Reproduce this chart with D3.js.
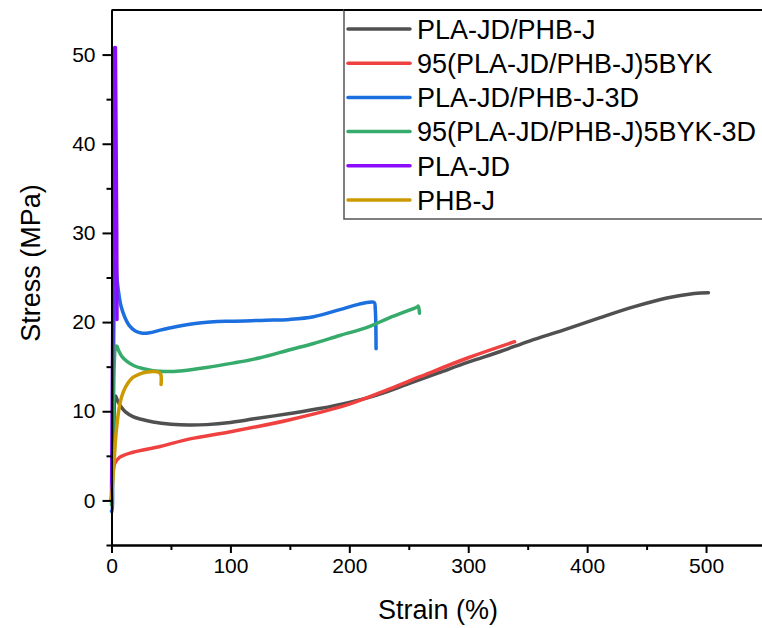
<!DOCTYPE html>
<html><head><meta charset="utf-8">
<script src="https://cdn.jsdelivr.net/npm/d3@7"></script>
<style>html,body{margin:0;padding:0;background:#fff;overflow:hidden}svg{display:block}</style>
</head><body>
<svg id="chart" width="762" height="628"></svg>
<script>
const seriesNames = ["PLA-JD/PHB-J","95(PLA-JD/PHB-J)5BYK","PLA-JD/PHB-J-3D","95(PLA-JD/PHB-J)5BYK-3D","PLA-JD","PHB-J"];
const seriesColors = ["#505050","#f04141","#1b6fdf","#36ab6b","#8c0cff","#cc9900"];

const blackStrain = [0,1,2,2.8,3.5,5,8,12,18,25,35,50,65,80,100,120,150,175,200,225,250,275,300,327,352,380,411,439,467,490,502];
const blackStress = [0,4,8,11.5,11.7,11.2,10.5,9.9,9.4,9.1,8.8,8.55,8.45,8.5,8.75,9.15,9.75,10.3,11.0,11.9,13.1,14.3,15.5,16.7,17.9,19.1,20.5,21.7,22.7,23.2,23.3];

const redStrain = [0,0.5,1,2,3,7,18,41,66,100,150,200,234,260,300,339];
const redStress = [0,1.5,3,3.8,4.2,4.85,5.4,6.05,6.9,7.7,9.05,10.8,12.5,13.9,16.0,17.8];

const blueStrain = [0,0.4,0.9,1.5,2.2,2.8,3.5,4.5,6,8,11,15,20,26,32,41,55,74,100,130,150,170,192,205,215,221,221.8,222.5];
const blueStress = [-1.2,-1.3,5,14,22,26.9,26.8,25,23.3,21.8,20.6,19.6,19.0,18.75,18.8,19.1,19.5,19.9,20.1,20.2,20.3,20.6,21.4,21.9,22.2,22.2,21.5,17.0];

const greenStrain = [0,0.5,1,1.8,2.5,3.5,4.5,6,9,13,19,26,35,45,60,80,102,125,150,170,192,215,234,257,258,259];
const greenStress = [-0.5,2,6,12,16,17.3,17.3,16.8,16.1,15.6,15.1,14.8,14.55,14.45,14.55,14.9,15.4,16.0,16.9,17.6,18.5,19.4,20.5,21.7,21.8,21.0];

const purpleStrain = [0,1.6,2.7,3.3,4.4,4.6];
const purpleStress = [0,30,50.8,50.8,30,20.3];

const goldStrain = [0,0.5,1.5,2.5,3.5,5,7,10,14,18,24,30,36,40,41.5,41.7];
const goldStress = [0,1,3,5,7,9,10.8,12.2,13.2,13.8,14.2,14.4,14.45,14.35,14.1,13.0];

const xTicks = [0,100,200,300,400,500];
const yTicks = [0,10,20,30,40,50];

const strains = [blackStrain, redStrain, blueStrain, greenStrain, purpleStrain, goldStrain];
const stresses = [blackStress, redStress, blueStress, greenStress, purpleStress, goldStress];

const svg = d3.select("#chart");
const FONT = "'Liberation Sans', Arial, sans-serif";
const pLeft = 111.5, pRight = 765.5, pTop = 10, pBottom = 545;
const x = d3.scaleLinear().domain([0,550]).range([pLeft,pRight]);
const y = d3.scaleLinear().domain([-5,55]).range([pBottom,pTop]);

// curves
const smooth = d3.line().x(d=>x(d[0])).y(d=>y(d[1])).curve(d3.curveCatmullRom.alpha(0.5));
const straight = d3.line().x(d=>x(d[0])).y(d=>y(d[1]));
const g = svg.append("g");
seriesNames.forEach((name,i)=>{
  const pts = strains[i].map((s,k)=>[s, stresses[i][k]]);
  g.append("path").datum(pts).attr("d", name === "PLA-JD" ? straight : smooth)
    .attr("fill","none").attr("stroke",seriesColors[i])
    .attr("stroke-width",3.5).attr("stroke-linejoin","round").attr("stroke-linecap","round");
});

// axes
const xAxis = d3.axisBottom(x).tickValues(xTicks).tickSize(8).tickSizeOuter(0).tickPadding(5);
const xMinor = d3.axisBottom(x).tickValues([50,150,250,350,450]).tickSize(5).tickSizeOuter(0).tickFormat("");
const yAxis = d3.axisLeft(y).tickValues(yTicks).tickSize(9).tickSizeOuter(0).tickPadding(7);
const yMinor = d3.axisLeft(y).tickValues([-5,5,15,25,35,45]).tickSize(5).tickSizeOuter(0).tickFormat("");

function style(sel){
  sel.selectAll("path.domain").attr("stroke","#000").attr("stroke-width",2);
  sel.selectAll(".tick line").attr("stroke","#000").attr("stroke-width",2);
  sel.selectAll(".tick text").attr("font-family",FONT).attr("font-size",21).attr("fill","#000");
}
svg.append("g").attr("transform",`translate(0,${pBottom})`).call(xMinor).call(style);
svg.append("g").attr("transform",`translate(0,${pBottom})`).call(xAxis).call(style);
svg.append("g").attr("transform",`translate(${pLeft},0)`).call(yMinor).call(style);
svg.append("g").attr("transform",`translate(${pLeft},0)`).call(yAxis).call(style);
// top frame
svg.append("line").attr("x1",pLeft).attr("x2",762).attr("y1",pTop).attr("y2",pTop).attr("stroke","#000").attr("stroke-width",2);

// titles
svg.append("text").attr("x",438).attr("y",619).attr("text-anchor","middle")
  .attr("font-family",FONT).attr("font-size",27).text("Strain (%)");
svg.append("text").attr("transform",`translate(40,263) rotate(-90)`).attr("text-anchor","middle")
  .attr("font-family",FONT).attr("font-size",27).text("Stress (MPa)");

// legend
const lg = svg.append("g");
lg.append("rect").attr("x",344).attr("y",pTop).attr("width",430).attr("height",209)
  .attr("fill","#fff").attr("stroke","#555").attr("stroke-width",1.5);
seriesNames.forEach((name,i)=>{
  const ly = 29 + i*34.2;
  lg.append("line").attr("x1",348).attr("x2",410).attr("y1",ly).attr("y2",ly)
    .attr("stroke",seriesColors[i]).attr("stroke-width",3.5).attr("stroke-linecap","round");
  lg.append("text").attr("x",417).attr("y",ly+9.7).attr("font-family",FONT).attr("font-size",27)
    .attr("fill","#000").text(name);
});
svg.append("line").attr("x1",344).attr("x2",762).attr("y1",pTop).attr("y2",pTop).attr("stroke","#000").attr("stroke-width",2);
</script>
</body></html>
